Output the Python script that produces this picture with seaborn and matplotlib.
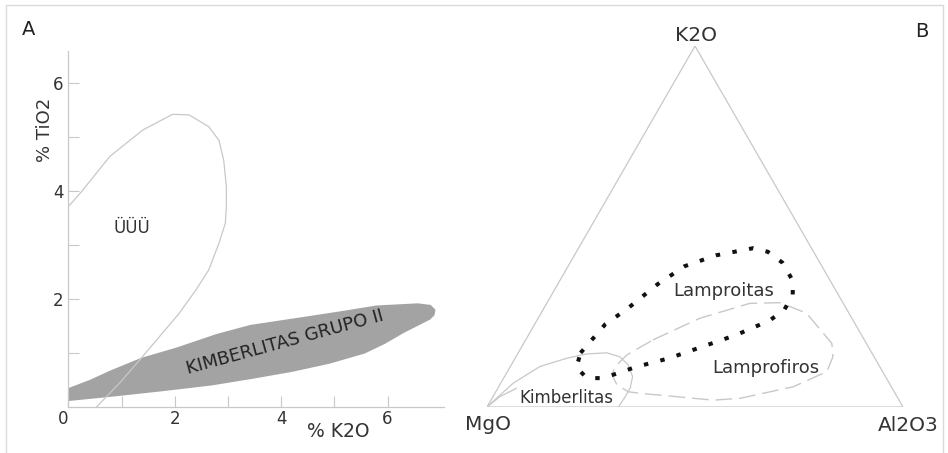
import numpy as np
import matplotlib
matplotlib.use("Agg")
import matplotlib.pyplot as plt
from matplotlib.patches import Rectangle, Polygon
import seaborn as sns

# Painel A: campo "ÜÜÜ" (curva aberta) em % K2O x % TiO2
u_k2o = [0.0, 0.25, 0.78, 1.40, 1.96, 2.27, 2.64, 2.83, 2.92, 2.97, 2.97, 2.95,
         2.83, 2.64, 2.40, 2.08, 1.71, 1.34, 0.96, 0.53]
u_tio2 = [3.71, 3.99, 4.64, 5.13, 5.42, 5.41, 5.19, 4.94, 4.57, 4.08, 3.71, 3.40,
          3.03, 2.54, 2.17, 1.73, 1.30, 0.87, 0.44, 0.0]

# Painel A: campo Kimberlitas Grupo II (poligono preenchido)
kg2_k2o = [0.0, 0.40, 0.80, 1.37, 2.03, 2.78, 3.42, 4.30, 5.10, 5.79, 6.57, 6.81,
           6.90, 6.88, 6.80, 6.60, 6.30, 5.95, 5.57, 4.90, 4.20, 3.45, 2.70, 1.84,
           0.91, 0.0]
kg2_tio2 = [0.35, 0.50, 0.68, 0.91, 1.10, 1.35, 1.52, 1.65, 1.77, 1.88, 1.92, 1.89,
            1.80, 1.70, 1.62, 1.52, 1.37, 1.17, 0.99, 0.80, 0.65, 0.52, 0.40, 0.30,
            0.20, 0.11]

x_ticks = [0, 2, 4, 6]
y_ticks = [2, 4, 6]
minor_ticks = [1, 3, 5]

# Painel B: diagrama ternario K2O - MgO - Al2O3 (% K2O, % Al2O3; MgO = resto)
lamproitas_k2o = [15, 19, 23, 27, 34, 39, 42, 44, 43, 40, 35, 31, 27, 24, 20, 17,
                  13.5, 11, 9.4, 8, 8, 11, 15]
lamproitas_al2o3 = [15, 16, 17, 20, 24, 28, 34, 42, 46, 51, 56, 58, 58, 56, 50, 44,
                    37, 30, 27, 23.5, 20, 16, 15]

lamprofiros_k2o = [18.6, 24.6, 28.7, 28.9, 26.0, 17.6, 13.9, 9.8, 5.6, 2.4, 1.9,
                   3.3, 3.6, 4.2, 6.1, 8.9, 11.2, 14.4, 18.6]
lamprofiros_al2o3 = [30.6, 38.9, 48.8, 56.0, 63.8, 74.1, 76.2, 76.8, 70.8, 59.6, 53.4,
                     39.9, 36.6, 31.9, 28.2, 25.6, 25.2, 26.4, 30.6]

kimb_k2o = [0, 6.6, 11.2, 13.5, 14.7, 15.0, 13.9, 11.6, 8.4, 5.2, 2.9, 0]
kimb_al2o3 = [0, 3.0, 7.1, 12.4, 16.6, 21.3, 25.0, 28.2, 30.8, 31.8, 31.8, 31.6]
kimb2_k2o = [0, 2.9, 5.2]
kimb2_al2o3 = [0, 1.7, 4.5]

vertices = ["K2O", "MgO", "Al2O3"]

W, H = 948, 453
sns.set_theme(style="ticks")
plt.rcParams['font.family'] = ['DejaVu Sans']

LINE = "#c8c8c8"
TXT = "#333333"


def tern(k2o, al2o3):
    k = np.asarray(k2o, float) / 100
    a = np.asarray(al2o3, float) / 100
    return a + k / 2, k * np.sqrt(3) / 2


def px(x, y):
    return x / W, 1 - y / H


fig = plt.figure(figsize=(W / 100, H / 100), dpi=100)
fig.patches.append(Rectangle(px(6, 460), 937 / W, 455 / H, transform=fig.transFigure,
                             fill=False, ec="#dadada", lw=1))

# ---------------- painel A ----------------
ax = fig.add_axes([68.3 / W, 46 / H, 375.2 / W, 356.4 / H])
ax.fill(kg2_k2o, kg2_tio2, color="#a3a3a3", lw=0, zorder=1)
sns.lineplot(x=u_k2o, y=u_tio2, sort=False, estimator=None, ax=ax,
             color=LINE, lw=0.9, zorder=2)
ax.set_xlim(0, 7.05)
ax.set_ylim(0, 6.6)
ax.set_xticks(x_ticks)
ax.set_xticklabels([str(t) for t in x_ticks])
ax.set_xticks(minor_ticks, minor=True)
ax.set_yticks(y_ticks)
ax.set_yticklabels([str(t) for t in y_ticks])
ax.set_yticks(minor_ticks, minor=True)
ax.tick_params(which="both", direction="in", length=8, width=0.8, color=LINE,
               labelcolor=TXT, labelsize=12)
ax.tick_params(axis="x", pad=2)
ax.tick_params(axis="y", pad=3.5)
ax.get_xticklabels()[0].set_ha("right")
for s in ["top", "right"]:
    ax.spines[s].set_visible(False)
for s in ["left", "bottom"]:
    ax.spines[s].set_color(LINE)
    ax.spines[s].set_linewidth(0.9)
ax.set_facecolor("none")

ax.text(4.08, 1.19, "KIMBERLITAS GRUPO II", rotation=15.3, rotation_mode="anchor",
        ha="center", va="center", fontsize=13, color="#222222")
fig.text(*px(132, 233), "ÜÜÜ", ha="center", va="baseline", fontsize=12, color=TXT)
fig.text(*px(338, 437), "% K2O", ha="center", va="baseline", fontsize=13.5, color=TXT)
fig.text(*px(50, 129.5), "% TiO2", rotation=90, rotation_mode="anchor",
         ha="center", va="baseline", fontsize=13, color=TXT)
fig.text(*px(28.5, 35), "A", ha="center", va="baseline", fontsize=14, color="#222222")

# ---------------- painel B ----------------
bx = fig.add_axes([487 / W, 46 / H, 416 / W, 361 / H])
bx.set_xlim(0, 1)
bx.set_ylim(0, np.sqrt(3) / 2)
bx.axis("off")

tx, ty = tern([100, 0, 0], [0, 0, 100])
bx.add_patch(Polygon(np.column_stack([tx, ty]), closed=True, fill=False,
                     ec=LINE, lw=0.9))

x, y = tern(kimb_k2o, kimb_al2o3)
sns.lineplot(x=x, y=y, sort=False, estimator=None, ax=bx, color=LINE, lw=0.9)
x, y = tern(kimb2_k2o, kimb2_al2o3)
sns.lineplot(x=x, y=y, sort=False, estimator=None, ax=bx, color=LINE, lw=0.9)
x, y = tern(lamprofiros_k2o, lamprofiros_al2o3)
sns.lineplot(x=x, y=y, sort=False, estimator=None, ax=bx, color=LINE, lw=1.0,
             linestyle=(0, (12, 5)))
x, y = tern(lamproitas_k2o, lamproitas_al2o3)
sns.lineplot(x=x, y=y, sort=False, estimator=None, ax=bx, color="#111111", lw=2.9,
             linestyle=(0, (1.1, 3.1)))

fig.text(*px(696, 41), vertices[0], ha="center", va="baseline", fontsize=14.5, color=TXT)
fig.text(*px(488, 430), vertices[1], ha="center", va="baseline", fontsize=14.5, color=TXT)
fig.text(*px(908, 431), vertices[2], ha="center", va="baseline", fontsize=14.5, color=TXT)
fig.text(*px(922, 37), "B", ha="center", va="baseline", fontsize=14, color="#222222")
fig.text(*px(724, 296), "Lamproitas", ha="center", va="baseline", fontsize=13, color=TXT)
fig.text(*px(766, 373), "Lamprofiros", ha="center", va="baseline", fontsize=13, color=TXT)
fig.text(*px(566, 403), "Kimberlitas", ha="center", va="baseline", fontsize=12, color=TXT)

fig.savefig("out.png", dpi=100, facecolor="white")
